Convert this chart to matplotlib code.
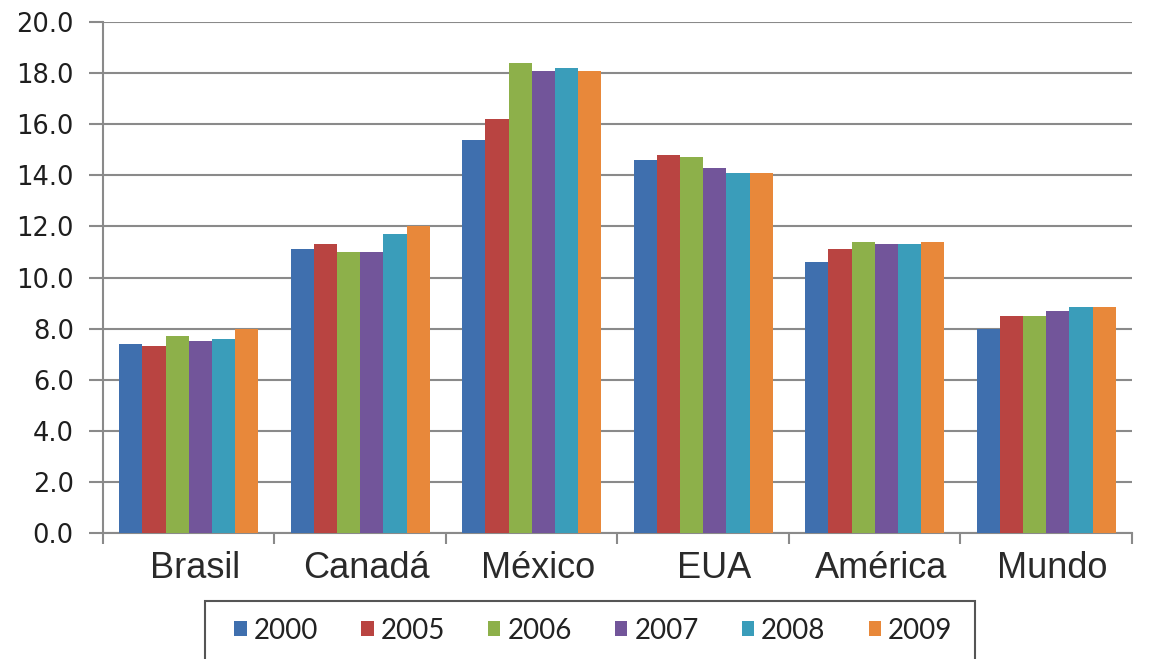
import numpy as np
import matplotlib
matplotlib.use("Agg")
import matplotlib.pyplot as plt
import matplotlib.transforms as mtransforms
from matplotlib.patches import Rectangle

plt.rcParams['font.family'] = ['DejaVu Sans']

categorias = ['Brasil', 'Canadá', 'México', ' EUA', 'América', 'Mundo']
anos = ['2000', '2005', '2006', '2007', '2008', '2009']

v2000 = [7.4, 11.1, 15.4, 14.6, 10.6, 8.0]
v2005 = [7.3, 11.3, 16.2, 14.8, 11.1, 8.5]
v2006 = [7.7, 11.0, 18.4, 14.7, 11.4, 8.5]
v2007 = [7.5, 11.0, 18.1, 14.3, 11.3, 8.7]
v2008 = [7.6, 11.7, 18.2, 14.1, 11.3, 8.85]
v2009 = [8.0, 12.0, 18.1, 14.1, 11.4, 8.85]
series = [v2000, v2005, v2006, v2007, v2008, v2009]

cores = ['#3f6fae', '#b94441', '#8db04a', '#72559a', '#3a9dba', '#e8883a']

fig = plt.figure(figsize=(11.52, 6.59), dpi=100)
ax = fig.add_axes([0.0894, 0.1912, 0.8932, 0.7754])

x = np.arange(len(categorias))
w = 0.135
for i in range(len(series)):
    ax.bar(x + (i - 2.5) * w, series[i], w, color=cores[i], label=anos[i], zorder=3)

ax.set_xlim(-0.5, len(categorias) - 0.5)
ax.set_ylim(0, 20)
yt = np.arange(0, 20.1, 2)
ax.set_yticks(yt)
ax.set_yticklabels(['%.1f' % v for v in yt], family='DejaVu Sans', fontsize=18.5,
                   color='#1e1e1e')
ax.yaxis.grid(True, color='#8a8a8a', linewidth=1.5, zorder=0)
ax.set_axisbelow(True)

for s in ['top', 'right']:
    ax.spines[s].set_visible(False)
ax.spines['left'].set_color('#8a8a8a')
ax.spines['left'].set_linewidth(1.5)
ax.spines['bottom'].set_color('#8a8a8a')
ax.spines['bottom'].set_linewidth(1.5)

ax.tick_params(axis='y', length=10, width=1.5, color='#8a8a8a', pad=11)

ax.set_xticks(x)
ax.set_xticklabels(categorias, family='Liberation Sans', fontsize=26, color='#2a2a2a')
ax.tick_params(axis='x', which='major', length=0, pad=13)
ax.set_xticks(np.arange(-0.5, len(categorias), 1), minor=True)
ax.tick_params(axis='x', which='minor', length=8, width=1.5, color='#8a8a8a')
off = mtransforms.ScaledTranslation(6 / 100, 0, fig.dpi_scale_trans)
for t in ax.get_xticklabels():
    t.set_transform(t.get_transform() + off)

# caixa da legenda (cortada na parte de baixo)
fig.patches.append(Rectangle((205 / 1152, -0.05), 770 / 1152, 0.05 + 1 - 601 / 659,
                             transform=fig.transFigure, fill=False,
                             edgecolor='#555555', linewidth=1.5))
h, l = ax.get_legend_handles_labels()
fig.legend(h, l, loc='center', bbox_to_anchor=(0.515, 0.043), ncol=6, frameon=False,
           prop={'family': 'Lato', 'size': 20}, handlelength=0.45, handleheight=0.45,
           handletextpad=0.25, columnspacing=1.55, labelcolor='#222222')

fig.savefig('out.png', dpi=100)
